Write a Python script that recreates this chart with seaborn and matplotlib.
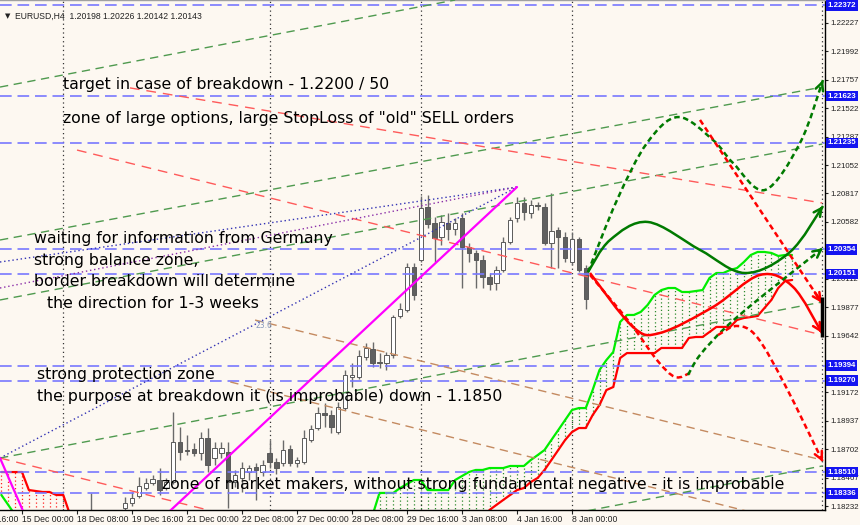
import matplotlib
matplotlib.use("Agg")
import matplotlib.pyplot as plt
import matplotlib.transforms as mtransforms
from matplotlib.path import Path
from matplotlib.patches import PathPatch
import numpy as np
import pandas as pd
import seaborn as sns

BG = "#fdf8f1"

# ---- H4 candles, x = bar number (0 = 15 Dec 00:00) ----
bar_idx = [10] + list(range(15, 83))
opens = [1.18120, 1.18216, 1.18257, 1.18315, 1.18381, 1.18422, 1.18447, 1.18381, 1.18430, 1.18761,
         1.18695, 1.18703, 1.18670, 1.18794, 1.18629, 1.18670, 1.18678, 1.18430, 1.18464, 1.18513,
         1.18555, 1.18513, 1.18670, 1.18596, 1.18588, 1.18703, 1.18588, 1.18596, 1.18778, 1.18877,
         1.19001, 1.18984, 1.18844, 1.19042, 1.19299, 1.19299, 1.19464, 1.19530, 1.19423, 1.19415,
         1.19481, 1.19803, 1.19853, 1.20209, 1.20266, 1.20705, 1.20573, 1.20457, 1.20573, 1.20523,
         1.20614, 1.20374, 1.20324, 1.20266, 1.20126, 1.20076, 1.20184, 1.20415, 1.20614, 1.20738,
         1.20655, 1.20722, 1.20705, 1.20407, 1.20514, 1.20457, 1.20250, 1.20440, 1.20200]
highs = [1.18340, 1.18307, 1.18348, 1.18472, 1.18464, 1.18488, 1.18546, 1.18464, 1.19009, 1.18885,
         1.18819, 1.18753, 1.18844, 1.18877, 1.18761, 1.18761, 1.18761, 1.18530, 1.18596, 1.18571,
         1.18588, 1.18612, 1.18778, 1.18629, 1.18778, 1.18736, 1.18637, 1.18860, 1.18902, 1.19051,
         1.19084, 1.19026, 1.19092, 1.19357, 1.19415, 1.19522, 1.19580, 1.19588, 1.19497, 1.19506,
         1.19812, 1.19911, 1.20242, 1.20242, 1.20796, 1.20804, 1.20622, 1.20639, 1.20655, 1.20614,
         1.20655, 1.20407, 1.20349, 1.20308, 1.20159, 1.20217, 1.20457, 1.20622, 1.20788, 1.20788,
         1.20763, 1.20746, 1.20738, 1.20821, 1.20539, 1.20498, 1.20498, 1.20457, 1.20225]
lows = [1.18060, 1.18182, 1.18232, 1.18298, 1.18364, 1.18406, 1.18323, 1.18364, 1.18414, 1.18612,
        1.18653, 1.18645, 1.18612, 1.18513, 1.18571, 1.18629, 1.18216, 1.18389, 1.18348, 1.18447,
        1.18282, 1.18480, 1.18546, 1.18497, 1.18563, 1.18563, 1.18555, 1.18579, 1.18761, 1.18860,
        1.18885, 1.18836, 1.18827, 1.19026, 1.19216, 1.19282, 1.19439, 1.19382, 1.19373, 1.19357,
        1.19456, 1.19787, 1.19836, 1.19936, 1.20250, 1.20531, 1.20250, 1.20391, 1.20432, 1.20473,
        1.20035, 1.20250, 1.20035, 1.20035, 1.20018, 1.20018, 1.20167, 1.20399, 1.20581, 1.20597,
        1.20614, 1.20680, 1.20391, 1.20200, 1.20200, 1.20250, 1.20225, 1.20167, 1.19861]
closes = [1.18150, 1.18257, 1.18298, 1.18397, 1.18422, 1.18455, 1.18364, 1.18430, 1.18761, 1.18678,
          1.18687, 1.18670, 1.18794, 1.18571, 1.18712, 1.18712, 1.18430, 1.18488, 1.18546, 1.18546,
          1.18530, 1.18571, 1.18596, 1.18546, 1.18695, 1.18588, 1.18612, 1.18794, 1.18869, 1.19001,
          1.18984, 1.18885, 1.19051, 1.19315, 1.19315, 1.19473, 1.19539, 1.19415, 1.19415, 1.19481,
          1.19795, 1.19861, 1.20209, 1.19977, 1.20697, 1.20564, 1.20449, 1.20581, 1.20523, 1.20573,
          1.20374, 1.20324, 1.20266, 1.20126, 1.20068, 1.20184, 1.20415, 1.20597, 1.20738, 1.20664,
          1.20722, 1.20713, 1.20407, 1.20506, 1.20457, 1.20283, 1.20440, 1.20184, 1.19944]

# ---- ichimoku cloud ----
cloud_idx = list(range(51, 113))
span_a = [1.18158, 1.18340, 1.18340, 1.18340, 1.18381, 1.18414, 1.18447, 1.18447, 1.18364, 1.18364,
          1.18364, 1.18364, 1.18447, 1.18480, 1.18513, 1.18530, 1.18530, 1.18546, 1.18546, 1.18546,
          1.18563, 1.18563, 1.18563, 1.18612, 1.18653, 1.18695, 1.18778, 1.18860, 1.18943, 1.19026,
          1.19042, 1.19042, 1.19191, 1.19357, 1.19439, 1.19506, 1.19754, 1.19812, 1.19812, 1.19837,
          1.19895, 1.19977, 1.20018, 1.20035, 1.20035, 1.20002, 1.20002, 1.20010, 1.20018, 1.20118,
          1.20159, 1.20159, 1.20184, 1.20200, 1.20250, 1.20308, 1.20333, 1.20333, 1.20325, 1.20300,
          1.20308, 1.20308]
span_b = [1.18117] * 17 + [
          1.18199, 1.18241, 1.18282, 1.18323, 1.18364, 1.18381, 1.18430, 1.18464, 1.18530, 1.18612,
          1.18695, 1.18778, 1.18844, 1.18877, 1.18877, 1.18984, 1.19067, 1.19191, 1.19216, 1.19456,
          1.19497, 1.19497, 1.19497, 1.19497, 1.19497, 1.19539, 1.19539, 1.19539, 1.19539, 1.19622,
          1.19630, 1.19630, 1.19671, 1.19713, 1.19713, 1.19713, 1.19771, 1.19787, 1.19795, 1.19804,
          1.19870, 1.19936, 1.20035, 1.20093, 1.20101]
left_idx = list(range(-3, 8))
span_a_left = [1.18323, 1.18241, 1.18158, 1.18100, 1.18100, 1.18100, 1.18100, 1.18100, 1.18100, 1.18100, 1.18100]
span_b_left = [1.18513, 1.18513, 1.18513, 1.18513, 1.18364, 1.18356, 1.18348, 1.18348, 1.18323, 1.18323, 1.18158]

# ---- levels, axis ----
levels = [1.22372, 1.21623, 1.21235, 1.20354, 1.20151, 1.19394, 1.19270, 1.18510, 1.18336]
price_ticks = [1.22227, 1.21992, 1.21757, 1.21522, 1.21287, 1.21052, 1.20817, 1.20582, 1.20347,
               1.20112, 1.19877, 1.19642, 1.19407, 1.19172, 1.18937, 1.18702, 1.18467, 1.18232]
hidden_ticks = [1.20347, 1.19407]  # fully covered by level boxes
date_pos = [-8, 0, 8, 16, 24, 32, 40, 48, 56, 64, 72, 80]
date_labels = ["13 Dec 16:00", "15 Dec 00:00", "18 Dec 08:00", "19 Dec 16:00", "21 Dec 00:00",
               "22 Dec 08:00", "27 Dec 00:00", "28 Dec 08:00", "29 Dec 16:00", "3 Jan 08:00",
               "4 Jan 16:00", "8 Jan 00:00"]
week_sep = [6, 36, 58, 80, 116.4]

# ---- drawn trend lines: (x0, p0, x1, p1) ----
green_lines = [(-3.2, 1.21697, 63.0, 1.22417), (-3.2, 1.20432, 116.4, 1.21697),
               (-3.2, 1.19936, 116.4, 1.21226), (-3.2, 1.18629, 116.4, 1.19919),
               (78.3, 1.18150, 116.4, 1.18563)]
red_lines = [(15.7, 1.21690, 116.4, 1.20738), (8.0, 1.21176, 116.4, 1.19646),
             (-3.2, 1.18629, 28.8, 1.18174)]
brown_lines = [(33.9, 1.19770, 116.4, 1.18612), (30.3, 1.19258, 116.4, 1.18034)]
blue_dotted = [(-3.2, 1.20250, 72.0, 1.20870), (-3.2, 1.18629, 72.0, 1.20870)]
purple_dotted = [(-3.2, 1.20035, 72.0, 1.20870)]
magenta_lines = [(20.1, 1.18116, 72.0, 1.20870), (-3.2, 1.18629, 0.4, 1.18158)]

# ---- forecast curves (knots) ----
fc_up_dash_x = [82.33, 86.55, 90.91, 95.42, 100.51, 103.42, 108.07, 113.16, 116.51]
fc_up_dash_y = [1.20167, 1.20763, 1.21234, 1.21449, 1.21259, 1.21069, 1.20846, 1.21234, 1.21755]
fc_up_solid_x = [82.33, 85.53, 91.05, 98.62, 105.16, 111.71, 116.51]
fc_up_solid_y = [1.20167, 1.20432, 1.20581, 1.20350, 1.20159, 1.20333, 1.20713]
fc_dn_solid_x = [82.62, 88.87, 92.80, 100.51, 107.35, 112.15, 116.36]
fc_dn_solid_y = [1.20159, 1.19713, 1.19663, 1.19878, 1.20143, 1.20044, 1.19663]
fc_dn_dash_x = [82.62, 88.44, 92.36, 95.0, 97.16]
fc_dn_dash_y = [1.20143, 1.19746, 1.19439, 1.19299, 1.19332]
fc_up_low_x = [96.87, 98.62, 102.25, 107.35, 116.51]
fc_up_low_y = [1.19316, 1.19481, 1.19704, 1.19953, 1.20366]
fc_hump_x = [101.24, 104.0, 106.91, 110.98, 116.51]
fc_hump_y = [1.19646, 1.19721, 1.19630, 1.19233, 1.18596]
fc_straight_x = [98.62, 116.36]
fc_straight_y = [1.21425, 1.19911]
now_bar = (116.4, 1.19961, 1.19630)

notes = [
    (63, 85, "target in case of breakdown - 1.2200 / 50"),
    (63, 118, "zone of large options, large StopLoss of \"old\" SELL orders"),
    (34, 238, "waiting for information from Germany"),
    (34, 260, "strong balance zone,"),
    (34, 282, "border breakdown will determine"),
    (47, 303, "the direction for 1-3 weeks"),
    (37, 374, "strong protection zone"),
    (37, 396, "the purpose at breakdown it (is improbable) down - 1.1850"),
    (162, 485, "zone of market makers, without strong fundamental negative - it is improbable"),
]

sns.set_style("white", {"axes.facecolor": BG})
plt.rcParams["font.family"] = ["DejaVu Sans"]

W, H = 860, 525
fig = plt.figure(figsize=(W / 100, H / 100), dpi=100, facecolor=BG)
ax = fig.add_axes([0, 15 / H, 825 / W, 510 / H])
ax.set_facecolor(BG)
ax.set_xlim(-3.2, 116.8)
ax.set_ylim(1.18199, 1.22417)


def smooth(xs, ys):
    pts = np.column_stack([xs, ys])
    n = len(pts)
    verts, codes = [pts[0]], [Path.MOVETO]
    c2 = pts[0]
    for i in range(n - 1):
        p0, p1, p2, p3 = pts[max(i - 1, 0)], pts[i], pts[i + 1], pts[min(i + 2, n - 1)]
        c1 = p1 + (p2 - p0) / 6
        c2 = p2 - (p3 - p1) / 6
        verts += [c1, c2, p2]
        codes += [Path.CURVE4] * 3
    return Path(verts, codes), c2


def curve(xs, ys, color, dashed, arrow=True):
    path, c2 = smooth(xs, ys)
    ls = (0, (2.2, 1.4)) if dashed else "-"
    ax.add_patch(PathPatch(path, fill=False, edgecolor=color, lw=1.8, linestyle=ls, zorder=5))
    if arrow:
        end = np.array([xs[-1], ys[-1]])
        start = end + (c2 - end) * 0.35
        ax.annotate("", xy=end, xytext=start,
                    arrowprops=dict(arrowstyle="->", color=color, lw=1.8, mutation_scale=14,
                                    shrinkA=0, shrinkB=0), zorder=5)


# cloud hatching
for xi, a, b in list(zip(cloud_idx, span_a, span_b)) + list(zip(left_idx, span_a_left, span_b_left)):
    col = "#2e8b2e" if a >= b else "#ff2020"
    ax.vlines(xi, min(a, b), max(a, b), colors=col, lw=0.9, linestyles=(0, (1, 2)), zorder=1)

cloud = pd.DataFrame({"x": cloud_idx, "a": span_a, "b": span_b})
left = pd.DataFrame({"x": left_idx, "a": span_a_left, "b": span_b_left})
for df in (cloud, left):
    sns.lineplot(data=df, x="x", y="a", ax=ax, color="#00ee00", lw=1.6, estimator=None, sort=False, zorder=2)
    sns.lineplot(data=df, x="x", y="b", ax=ax, color="#ff0000", lw=1.6, estimator=None, sort=False, zorder=2)

# week separators
for xs in week_sep:
    ax.axvline(xs, color="#333333", lw=0.9, ls=(0, (1, 2.5)), zorder=1)

# candles
for xi, o, h, l, c in zip(bar_idx, opens, highs, lows, closes):
    ax.vlines(xi, l, h, colors="#6a6a6a", lw=1, zorder=2.5)
    fill = "#ffffff" if c >= o else "#606060"
    ax.bar(xi, max(abs(c - o), 0.000008), bottom=min(o, c), width=0.62, color=fill,
           edgecolor="#5a5a5a", lw=0.7, zorder=2.6)

# levels
for lv in levels:
    ax.axhline(lv, color="#7878ff", lw=1.2, dashes=(7, 3.5), zorder=3)

for x0, y0, x1, y1 in green_lines:
    ax.plot([x0, x1], [y0, y1], color="#4f9a4f", lw=1, dashes=(6, 4), zorder=3)
for x0, y0, x1, y1 in red_lines:
    ax.plot([x0, x1], [y0, y1], color="#ff5a5a", lw=1, dashes=(7, 5), zorder=3)
for x0, y0, x1, y1 in brown_lines:
    ax.plot([x0, x1], [y0, y1], color="#c48a60", lw=1, dashes=(6, 4), zorder=3)
for x0, y0, x1, y1 in blue_dotted:
    ax.plot([x0, x1], [y0, y1], color="#3232b4", lw=1, ls=(0, (1, 2)), zorder=3)
for x0, y0, x1, y1 in purple_dotted:
    ax.plot([x0, x1], [y0, y1], color="#8a2da8", lw=1, ls=(0, (1, 2)), zorder=3)
for x0, y0, x1, y1 in magenta_lines:
    ax.plot([x0, x1], [y0, y1], color="#ff00ff", lw=1.6, zorder=4)

# forecast
curve(fc_up_dash_x, fc_up_dash_y, "#007a00", True)
curve(fc_up_solid_x, fc_up_solid_y, "#007a00", False)
curve(fc_dn_solid_x, fc_dn_solid_y, "#ff0000", False)
curve(fc_dn_dash_x, fc_dn_dash_y, "#ff0000", True, arrow=False)
curve(fc_up_low_x, fc_up_low_y, "#007a00", True)
curve(fc_hump_x, fc_hump_y, "#ff0000", True)
curve(fc_straight_x, fc_straight_y, "#ff0000", True)
ax.vlines(now_bar[0], now_bar[2], now_bar[1], colors="black", lw=2.5, zorder=6, clip_on=False)

# axes styling
ax.spines["left"].set_visible(False)
ax.spines["top"].set_color("#a0a0a0")
ax.spines["right"].set_color("#000000")
ax.spines["bottom"].set_color("#000000")
for s in ("top", "right", "bottom"):
    ax.spines[s].set_linewidth(1)

ax.yaxis.tick_right()
ax.set_yticks(price_ticks)
ax.set_yticklabels(["" if v in hidden_ticks else f"{v:.5f}" for v in price_ticks],
                   fontfamily="Liberation Sans")
ax.tick_params(axis="y", direction="out", length=2.5, width=0.8, pad=1.5, labelsize=5.7,
               colors="#222222", right=True, left=False)
ax.set_xticks([p for p in date_pos if p > -3.2])
ax.set_xticklabels([])
ax.tick_params(axis="x", direction="out", length=3, width=0.8, bottom=True, colors="#222222")
ax.set_xlabel("")
ax.set_ylabel("")

tr = mtransforms.blended_transform_factory(ax.transData, ax.transAxes)
for p, lab in zip(date_pos, date_labels):
    ax.text(p, -0.009, lab, transform=tr, ha="left", va="top", fontsize=6.2,
            fontfamily="Liberation Sans", color="#222222", clip_on=False)

trp = mtransforms.blended_transform_factory(ax.transAxes, ax.transData)
for lv in levels:
    ax.text(1.0 + 2.5 / 825, lv, f"{lv:.5f}", transform=trp, ha="left", va="center", fontsize=5.7,
            fontfamily="Liberation Sans", fontweight="bold", color="white", zorder=10, clip_on=False,
            bbox=dict(boxstyle="square,pad=0.2", fc="#1414f0", ec="none"))

for x, y, s in notes:
    fig.text(x / W, 1 - y / H, s, fontsize=11.3, color="black", ha="left", va="center", zorder=20)

fig.text(5 / W, 1 - 16 / H, "\u25bc", fontsize=5, color="#222222", va="center")
fig.text(15 / W, 1 - 16 / H, "EURUSD,H4  1.20198 1.20226 1.20142 1.20143", fontsize=6.2,
         fontfamily="Liberation Sans", color="#222222", va="center")
fig.text(255 / W, 1 - 326 / H, "23.6", fontsize=5.5, color="#8899bb", va="center")

fig.savefig("out.png", dpi=100, facecolor=BG)
